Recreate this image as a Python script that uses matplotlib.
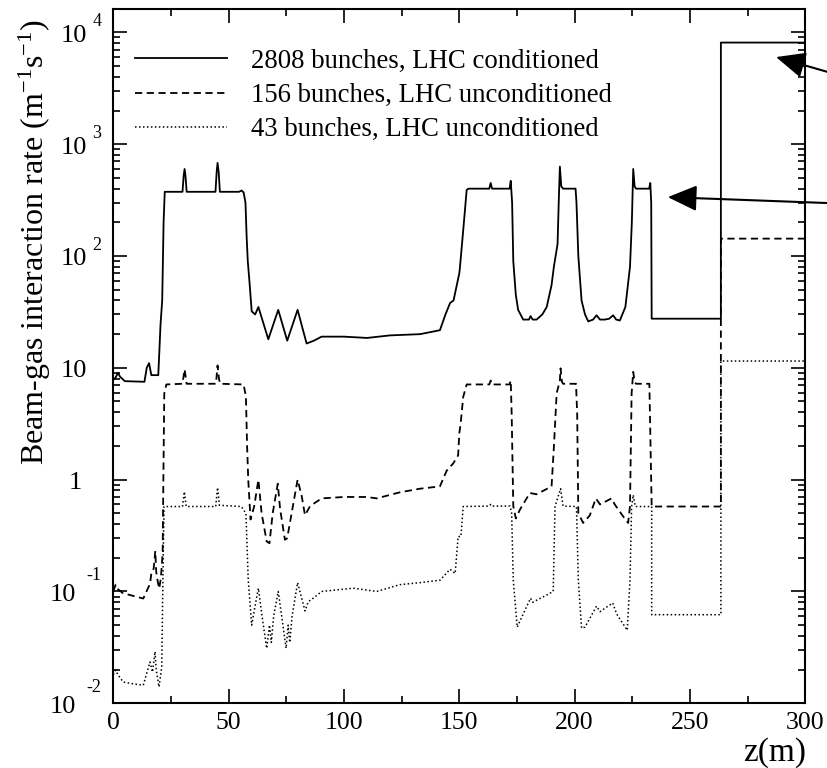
import numpy as np
import matplotlib
matplotlib.use("Agg")
import matplotlib.pyplot as plt
import matplotlib.ticker as ticker
import matplotlib.transforms as mtransforms

plt.rcParams['font.family'] = ['Liberation Serif', 'DejaVu Serif']
plt.rcParams['mathtext.fontset'] = 'custom'
plt.rcParams['mathtext.rm'] = 'Liberation Serif'
plt.rcParams['mathtext.it'] = 'Liberation Serif:italic'

# 2808 bunches, LHC conditioned
z_2808 = [0, 1, 2, 3, 5, 13.5, 14.5, 15.5, 16.5, 19.5, 20.5, 21.2, 21.8, 22.3,
          30, 30.5, 30.9, 31.3, 31.8, 44.3, 44.8, 45.2, 45.7, 46.2, 54.5, 55.6,
          56.5, 57.3, 57.8, 58.3, 59, 60, 61.5, 62.9, 67.2, 71.5, 75.4, 79.9,
          83.8, 87, 90.3, 100, 110, 120, 133, 141.6, 144, 146, 147.5, 150,
          150.3, 151.7, 153.2, 154, 163, 163.6, 164.2, 171.8, 172.3, 172.9,
          173.4, 174.5, 175.5, 177.7, 180.2, 180.9, 181.8, 183.5, 186, 187.9,
          190, 191, 192.6, 193.1, 193.6, 194.2, 195, 200.4, 200.8, 201.6, 203,
          204.5, 205.9, 208, 209.5, 211, 213.1, 215, 216.7, 218, 219.6, 222,
          224, 224.8, 225.4, 226, 226.6, 232.3, 232.8, 233.2, 233.4, 263.4,
          263.4, 300]
r_2808 = [7.8, 8.2, 9.0, 8.3, 7.6, 7.5, 10.0, 11.0, 8.6, 8.6, 25, 40, 200, 375,
          375, 520, 600, 520, 375, 375, 560, 680, 560, 375, 375, 385,
          370, 300, 150, 90, 60, 32, 30, 35, 18, 33, 17.5, 33,
          16.5, 17.5, 19, 19, 18.5, 19.5, 20, 21.7, 30, 38, 40, 70,
          80, 170, 390, 400, 400, 450, 400, 400, 470, 300,
          90, 45, 33, 27, 27, 29, 27, 27, 30, 35,
          55, 80, 128, 300, 630, 420, 400, 400, 300, 100, 40,
          30, 26, 27, 29.5, 27, 27, 27.5, 29.5, 27, 26.5, 35,
          80, 200, 600, 420, 400, 400, 450, 300, 27.5, 27.5,
          8100, 8100]

# 156 bunches, LHC unconditioned
z_156 = [0, 1, 2, 4, 8, 13, 15.9, 16.6, 17.5, 18.2, 18.6, 19.2, 19.9, 20.6,
         21.4, 21.7, 22.1, 23, 30, 30.5, 30.9, 31.3, 31.8, 44.5, 45.2, 45.8,
         46.3, 56.5, 57.5, 58.0, 58.5, 59.5, 61.1, 62.9, 64.3, 66.5, 67.7,
         69.1, 71.3, 72.3, 74.4, 75.4, 77.3, 79.9, 81.7, 83.1, 85.3, 90.3,
         100, 109.8, 114.2, 124.2, 133, 141.6, 144.5, 147.4, 149.5, 150,
         150.6, 151.7, 153.2, 163, 163.6, 164.2, 171.8, 172.3, 172.7, 173.4,
         174.5, 176.3, 180.6, 183.5, 190, 191, 192.2, 193.6, 193.9, 194.5,
         195, 200.6, 201.1, 201.6, 203.7, 206.6, 209.2, 211, 216, 217.4, 221,
         223.2, 224, 224.7, 225.4, 226, 226.6, 232.4, 233.4, 263.4, 263.4, 300]
r_156 = [0.10, 0.115, 0.105, 0.097, 0.092, 0.0865, 0.117, 0.15, 0.16, 0.23,
         0.15, 0.125, 0.106, 0.13, 0.22, 1.0, 5.9, 7.1, 7.2, 8.5, 9.7, 8.5,
         7.2, 7.2, 10.5, 8, 7.2, 7.1, 5.5, 2.0, 1.0, 0.44, 0.58, 1.0, 0.5,
         0.28, 0.27, 0.5, 0.92, 0.55, 0.29, 0.30, 0.5, 1.0, 0.71, 0.48, 0.58,
         0.68, 0.70, 0.70, 0.68, 0.77, 0.83, 0.87, 1.2, 1.4, 1.65, 2.6, 3.2,
         5.5, 7.1, 7.1, 7.7, 7.1, 7.1, 7.7, 3.9, 0.58, 0.45, 0.54, 0.76, 0.74,
         0.87, 1.95, 5.9, 7.7, 9.9, 7.5, 7.2, 7.2, 3.9, 0.5, 0.41, 0.48, 0.68,
         0.6, 0.68, 0.6, 0.47, 0.41, 0.58, 5.9, 9.2, 7.5, 7.2, 7.2, 0.575,
         0.575, 143, 143]

# 43 bunches, LHC unconditioned
z_43 = [0, 1, 2, 4.3, 8, 13, 15.9, 17, 18.1, 18.6, 19.8, 21, 21.7, 22, 30,
        30.8, 31.6, 44.4, 45.2, 46, 55.5, 57.5, 58.5, 60, 61.5, 62.9, 64.5,
        66.5, 67.7, 68.5, 69.5, 71.5, 73, 74.9, 75.8, 76.5, 77.5, 79.9, 81.5,
        83.1, 84.5, 87, 90.3, 104, 114.2, 124.2, 133, 141.6, 146, 148.2,
        149.5, 150.7, 151.7, 163, 163.6, 164.2, 172, 172.7, 173.4, 175.1,
        177.7, 180.9, 181.8, 187.9, 190.7, 191.5, 193.9, 195, 200.8, 201.6,
        203, 204.5, 209.5, 211, 216.5, 218.2, 222.8, 224, 224.7, 225.4, 226.3,
        233.4, 233.4, 263.4, 263.4, 300]
r_43 = [0.018, 0.0198, 0.018, 0.0155, 0.015, 0.0145, 0.0234, 0.019, 0.029,
        0.02, 0.014, 0.021, 0.25, 0.575, 0.575, 0.78, 0.575, 0.575, 0.85, 0.59,
        0.575, 0.5, 0.126, 0.05, 0.075, 0.107, 0.06, 0.031, 0.05, 0.035, 0.06,
        0.1, 0.06, 0.031, 0.05, 0.035, 0.06, 0.12, 0.09, 0.067, 0.081, 0.088,
        0.1, 0.107, 0.1, 0.115, 0.12, 0.126, 0.158, 0.145, 0.31, 0.31, 0.575,
        0.58, 0.6, 0.58, 0.58, 0.5, 0.126, 0.048, 0.063, 0.087, 0.08, 0.093,
        0.1, 0.575, 0.83, 0.58, 0.575, 0.126, 0.047, 0.048, 0.074, 0.066,
        0.079, 0.063, 0.045, 0.126, 0.575, 0.73, 0.575, 0.575, 0.062, 0.062,
        11.5, 11.5]

labels = ["2808 bunches, LHC conditioned",
          "156 bunches, LHC unconditioned",
          "43 bunches, LHC unconditioned"]

fig = plt.figure(figsize=(8.28, 7.68), dpi=100)
ax = fig.add_axes([113.3 / 828, 1 - 703.3 / 768, 692 / 828, 694 / 768])

lw = 1.3
ax.plot(z_2808, r_2808, color='black', lw=lw, label=labels[0])
ax.plot(z_156, r_156, color='black', lw=lw, linestyle=(0, (4, 2.5)), label=labels[1])
ax.plot(z_43, r_43, color='black', lw=1.1, linestyle=(0, (1, 1.6)), label=labels[2])

ax.set_yscale('log')
ax.set_xlim(0, 300)
ax.set_ylim(0.01, 10 ** 4.206)

ax.xaxis.set_major_locator(ticker.MultipleLocator(50))
ax.xaxis.set_minor_locator(ticker.MultipleLocator(25))
ax.yaxis.set_major_locator(ticker.LogLocator(base=10, numticks=20))
ax.yaxis.set_minor_locator(ticker.LogLocator(base=10, subs=np.arange(2, 10), numticks=20))
ax.yaxis.set_minor_formatter(ticker.NullFormatter())
ax.yaxis.set_major_formatter(ticker.NullFormatter())

ax.tick_params(which='both', direction='in', top=True, right=True, width=1.2)
ax.tick_params(which='major', length=10)
ax.tick_params(which='minor', length=5)
ax.tick_params(axis='x', labelsize=18.5, pad=6)
for s in ax.spines.values():
    s.set_linewidth(1.5)

# y tick labels: "10" with a raised exponent
ytrans = ax.get_yaxis_transform()
for e in range(-2, 5):
    y = 10.0 ** e
    if e == 0:
        base_t = mtransforms.offset_copy(ytrans, fig=fig, x=-31, y=-9.5, units='dots')
        ax.text(0, y, "1", transform=base_t, ha='right', va='baseline', fontsize=19)
    elif e == 1:
        base_t = mtransforms.offset_copy(ytrans, fig=fig, x=-26, y=-9.5, units='dots')
        ax.text(0, y, "10", transform=base_t, ha='right', va='baseline', fontsize=19)
    else:
        bx = -26 if e > 0 else -37
        ex = -21 if e > 0 else -26.5
        ey = 6 if e > 0 else 11
        base_t = mtransforms.offset_copy(ytrans, fig=fig, x=bx, y=-9.5, units='dots')
        exp_t = mtransforms.offset_copy(ytrans, fig=fig, x=ex, y=ey, units='dots')
        ax.text(0, y, "10", transform=base_t, ha='right', va='baseline', fontsize=19)
        ax.text(0, y, "%d" % e, transform=exp_t, ha='left', va='baseline', fontsize=13)

fig.text(35 / 828, 1 - 242 / 768, r"Beam-gas interaction rate (m$^{-1}$s$^{-1}$)",
         rotation=90, ha='center', va='center', fontsize=23)
fig.text(806 / 828, 1 - 761 / 768, "z(m)", ha='right', va='baseline', fontsize=24)

ax.legend(loc='upper left', bbox_to_anchor=(0.031, 0.943), frameon=False,
          fontsize=19.3, handlelength=3.45, handletextpad=0.9, labelspacing=0.34,
          borderpad=0, borderaxespad=0)

arrow = dict(arrowstyle='-|>,head_length=0.9,head_width=0.4', color='black',
             lw=1.5, mutation_scale=20, shrinkA=0, shrinkB=0)
ax.annotate('', xy=(287.3, 6010), xycoords='data', xytext=(840, 768 - 75.5),
            textcoords='figure pixels', arrowprops=arrow, annotation_clip=False)
ax.annotate('', xy=(240.4, 336), xycoords='data', xytext=(840, 768 - 203.5),
            textcoords='figure pixels', arrowprops=arrow, annotation_clip=False)

fig.savefig("out.png", dpi=100)
